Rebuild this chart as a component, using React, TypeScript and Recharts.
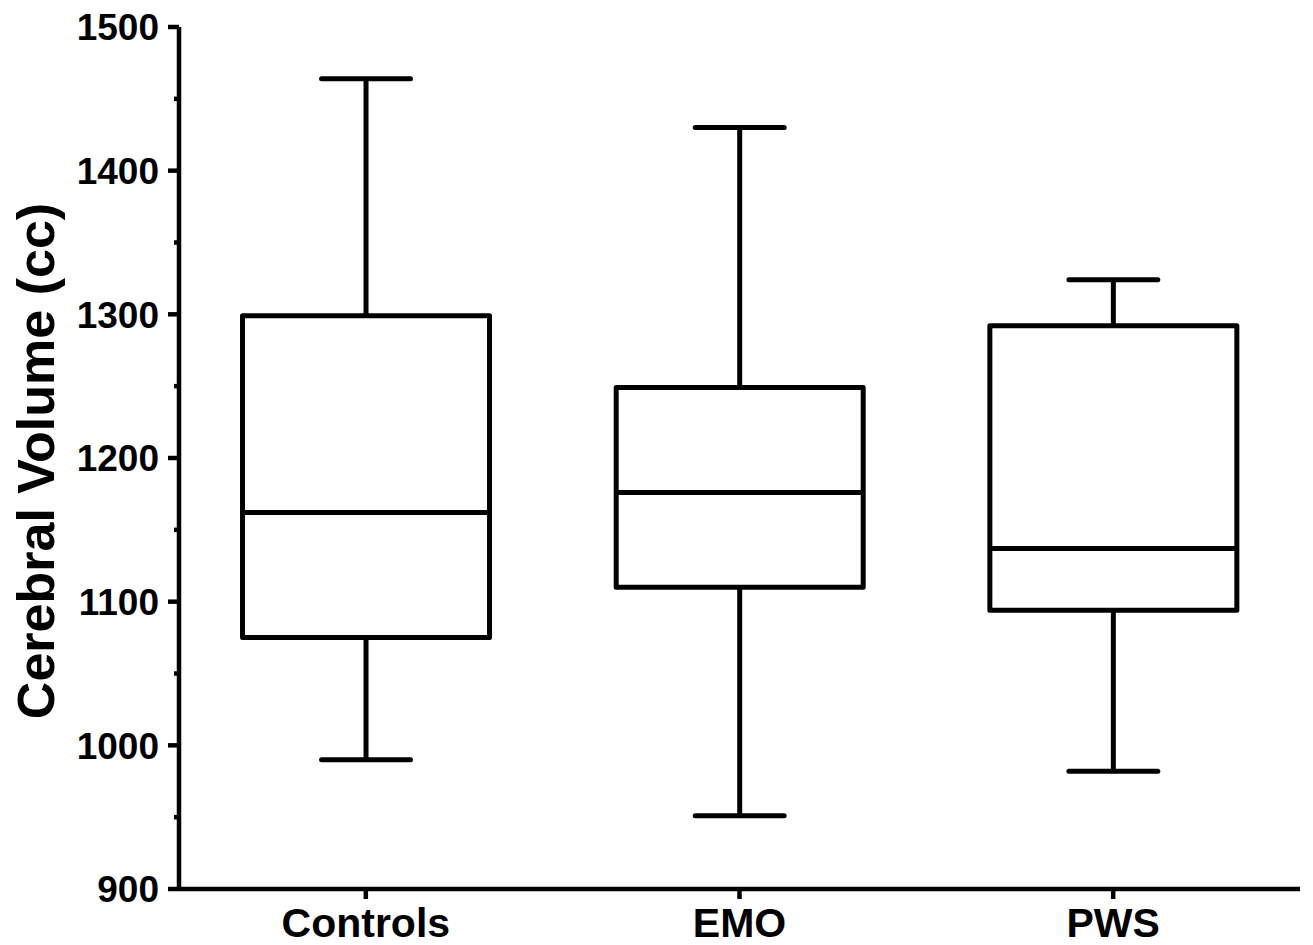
import { ComposedChart, Bar, XAxis, YAxis } from "recharts";

const groups = ["Controls", "EMO", "PWS"];
const minVals = [990, 951, 982];
const q1Vals = [1075, 1110, 1094];
const medianVals = [1162, 1176, 1137];
const q3Vals = [1299, 1249, 1292];
const maxVals = [1464, 1430, 1324];
const yTicks = [900, 950, 1000, 1050, 1100, 1150, 1200, 1250, 1300, 1350, 1400, 1450, 1500];

const FONT = "'Liberation Sans', Arial, sans-serif";
const INK = "#000";

const rows = groups.map((g, i) => ({
  group: g,
  range: [minVals[i], maxVals[i]],
  min: minVals[i],
  q1: q1Vals[i],
  median: medianVals[i],
  q3: q3Vals[i],
  max: maxVals[i],
}));

// draws a box + whiskers inside the pixel span the bar got for [min, max]
function BoxShape(props: any) {
  const { x, y, width, height, payload } = props;
  const top = Math.min(y, y + height);
  const h = Math.abs(height);
  const bottom = top + h;
  const span = payload.max - payload.min;
  const py = (v: number) => bottom - ((v - payload.min) / span) * h;
  const cx = x + width / 2;
  const cap = width * 0.36;
  const sw = 5;
  return (
    <g stroke={INK} strokeWidth={sw} fill="none">
      <line x1={cx} x2={cx} y1={py(payload.max)} y2={py(payload.q3)} />
      <line x1={cx} x2={cx} y1={py(payload.q1)} y2={py(payload.min)} />
      <line x1={cx - cap / 2} x2={cx + cap / 2} y1={py(payload.max)} y2={py(payload.max)} strokeLinecap="round" />
      <line x1={cx - cap / 2} x2={cx + cap / 2} y1={py(payload.min)} y2={py(payload.min)} strokeLinecap="round" />
      <rect x={x} y={py(payload.q3)} width={width} height={py(payload.q1) - py(payload.q3)} fill="#fff" strokeLinejoin="round" />
      <line x1={x} x2={x + width} y1={py(payload.median)} y2={py(payload.median)} />
    </g>
  );
}

function YTick(props: any) {
  const { x, y, payload } = props;
  const axisX = x + 20;
  const major = payload.value % 100 === 0;
  return (
    <g>
      <line x1={axisX - (major ? 11 : 5)} x2={axisX} y1={y} y2={y} stroke={INK} strokeWidth={4.5} />
      {major && (
        <text x={x} y={y} dy="0.36em" textAnchor="end" fontSize={37} fontWeight="bold" fontFamily={FONT} fill={INK}>
          {payload.value}
        </text>
      )}
    </g>
  );
}

function YLabel(props: any) {
  const { viewBox } = props;
  const cy = viewBox.y + viewBox.height / 2 + 3;
  return (
    <text x={36} y={cy} transform={`rotate(-90 36 ${cy})`} textAnchor="middle" dominantBaseline="central" fontSize={52} fontWeight="bold" fontFamily={FONT} fill={INK}>
      Cerebral Volume (cc)
    </text>
  );
}

export default function App() {
  return (
    <div style={{ position: "absolute", left: 0, top: 0, width: 1313, height: 945, background: "#fff" }}>
      <ComposedChart width={1313} height={945} data={rows} margin={{ top: 27, right: 13, left: 79, bottom: 6 }} barCategoryGap="17%">
        <XAxis
          dataKey="group"
          height={50}
          axisLine={{ stroke: INK, strokeWidth: 4.5 }}
          tickLine={{ stroke: INK, strokeWidth: 4.5 }}
          tickSize={10}
          tickMargin={9}
          tick={{ fontSize: 41, fontWeight: "bold", fontFamily: FONT, fill: INK }}
        />
        <YAxis
          width={100}
          domain={[900, 1500]}
          ticks={yTicks}
          interval={0}
          allowDataOverflow
          axisLine={{ stroke: INK, strokeWidth: 4.5 }}
          tickLine={false}
          tickSize={10}
          tickMargin={10}
          tick={<YTick />}
          label={<YLabel />}
        />
        <Bar dataKey="range" shape={<BoxShape />} isAnimationActive={false} />
      </ComposedChart>
    </div>
  );
}
